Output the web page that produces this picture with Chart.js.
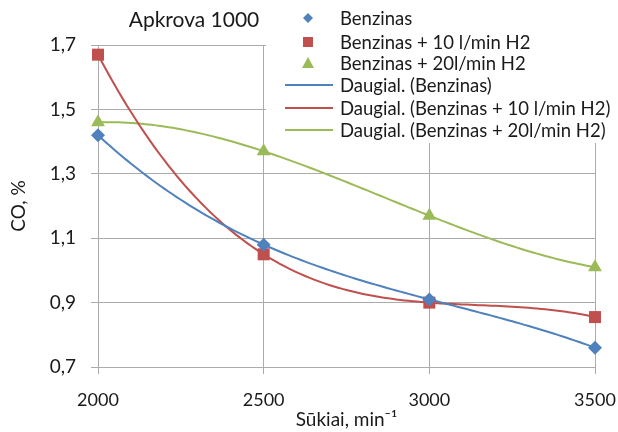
<!DOCTYPE html>
<html>
<head>
<meta charset="utf-8">
<script src="https://cdn.jsdelivr.net/npm/chart.js@4/dist/chart.umd.min.js"></script>
<style>
  html, body { margin: 0; padding: 0; background: #fff; }
  #wrap { width: 618px; height: 432px; }
</style>
</head>
<body>
<div id="wrap"><canvas id="chart" width="618" height="432"></canvas></div>
<script>
// --- Duomenys ---
const rpm = [2000, 2500, 3000, 3500];
const benzinas = [1.42, 1.08, 0.91, 0.76];
const benzinas10 = [1.67, 1.05, 0.90, 0.855];
const benzinas20 = [1.46, 1.37, 1.17, 1.01];
const seriesNames = ['Benzinas', 'Benzinas + 10 l/min H2', 'Benzinas + 20l/min H2'];
const xTicks = [2000, 2500, 3000, 3500];
const yTicks = [0.7, 0.9, 1.1, 1.3, 1.5, 1.7];

const colors = ['#4F81BD', '#C0504D', '#9BBB59'];
const shapes = ['rectRot', 'rect', 'triangle'];
const radii = [7, 8.5, 8];
const FONT = 'Lato';
const TEXT = '#1a1a1a';

// polinominė trendo linija (3 laipsnio), kaip Excel "Daugianaris"
function polyTrend(xs, ys, order) {
  const n = order + 1;
  const sx = xs.map(x => (x - 2000) / 1000);
  const A = [];
  for (let i = 0; i < n; i++) {
    A.push(new Array(n + 1).fill(0));
    for (let j = 0; j < n; j++) {
      A[i][j] = sx.reduce((s, x) => s + Math.pow(x, i + j), 0);
    }
    A[i][n] = sx.reduce((s, x, k) => s + Math.pow(x, i) * ys[k], 0);
  }
  for (let c = 0; c < n; c++) {
    let p = c;
    for (let r = c + 1; r < n; r++) if (Math.abs(A[r][c]) > Math.abs(A[p][c])) p = r;
    [A[c], A[p]] = [A[p], A[c]];
    for (let r = 0; r < n; r++) {
      if (r === c) continue;
      const f = A[r][c] / A[c][c];
      for (let k = c; k <= n; k++) A[r][k] -= f * A[c][k];
    }
  }
  const coef = A.map((row, i) => row[n] / row[i]);
  const pts = [];
  const x0 = xs[0], x1 = xs[xs.length - 1];
  for (let i = 0; i <= 120; i++) {
    const x = x0 + (x1 - x0) * i / 120;
    const t = (x - 2000) / 1000;
    pts.push({ x: x, y: coef.reduce((s, c, k) => s + c * Math.pow(t, k), 0) });
  }
  return pts;
}

const allY = [benzinas, benzinas10, benzinas20];
const datasets = [];
allY.forEach((ys, i) => {
  datasets.push({
    label: seriesNames[i],
    data: rpm.map((x, k) => ({ x: x, y: ys[k] })),
    showLine: false,
    clip: false,
    pointStyle: shapes[i],
    pointRadius: radii[i],
    pointHoverRadius: radii[i],
    pointBackgroundColor: colors[i],
    pointBorderColor: colors[i],
    pointBorderWidth: 0,
    order: 0
  });
});
allY.forEach((ys, i) => {
  datasets.push({
    label: 'Daugial. (' + seriesNames[i] + ')',
    data: polyTrend(rpm, ys, 3),
    showLine: true,
    borderColor: colors[i],
    borderWidth: 2,
    pointRadius: 0,
    pointHoverRadius: 0,
    order: 1
  });
});

// pavadinimas ir legenda piešiami ranka, nes Excel legenda užlenda ant grafiko
const overlay = {
  id: 'overlay',
  beforeDatasetsDraw(chart) {
    const ctx = chart.ctx;
    ctx.save();
    ctx.fillStyle = '#fff';
    ctx.fillRect(266, 0, 352, 143);
    ctx.restore();
  },
  afterDraw(chart) {
    const ctx = chart.ctx;
    ctx.save();
    ctx.fillStyle = TEXT;
    ctx.font = '21px ' + FONT;
    ctx.textAlign = 'center';
    ctx.textBaseline = 'middle';
    ctx.fillText('Apkrova 1000', 194, 20);

    const rows = [18, 42, 63, 85, 108, 130];
    ctx.font = '18.5px ' + FONT;
    ctx.textAlign = 'left';
    chart.data.datasets.forEach((ds, i) => {
      const y = rows[i];
      if (i < 3) {
        ctx.fillStyle = colors[i];
        ctx.beginPath();
        if (i === 0) {
          ctx.moveTo(308, y - 5); ctx.lineTo(313, y); ctx.lineTo(308, y + 5); ctx.lineTo(303, y);
        } else if (i === 1) {
          ctx.rect(303, y - 5, 10, 10);
        } else {
          ctx.moveTo(308, y - 6); ctx.lineTo(314, y + 5); ctx.lineTo(302, y + 5);
        }
        ctx.closePath();
        ctx.fill();
      } else {
        ctx.strokeStyle = colors[i - 3];
        ctx.lineWidth = 2;
        ctx.beginPath();
        ctx.moveTo(285, y); ctx.lineTo(333, y);
        ctx.stroke();
      }
      ctx.fillStyle = TEXT;
      ctx.fillText(ds.label, 340, y + 1);
    });
    ctx.restore();
  }
};

const gridColor = '#ababab';

new Chart(document.getElementById('chart'), {
  type: 'scatter',
  data: { datasets: datasets },
  options: {
    responsive: false,
    animation: false,
    layout: { padding: { top: 45, right: 23, left: 0, bottom: 0 } },
    plugins: {
      legend: { display: false },
      title: { display: false },
      tooltip: { enabled: false }
    },
    scales: {
      x: {
        type: 'linear',
        min: 2000,
        max: 3500,
        afterBuildTicks: s => { s.ticks = xTicks.map(v => ({ value: v })); },
        afterFit: s => { s.height = 65; s.paddingLeft = 0; s.paddingRight = 0; },
        grid: { color: gridColor, tickLength: 7 },
        border: { color: gridColor },
        ticks: {
          color: TEXT,
          font: { family: FONT, size: 18 },
          padding: 15,
          maxRotation: 0,
          callback: v => String(v)
        },
        title: { display: true, text: 'Sūkiai, min⁻¹', color: TEXT, font: { family: FONT, size: 19 }, padding: { top: 0, bottom: 1 } }
      },
      y: {
        type: 'linear',
        min: 0.7,
        max: 1.7,
        afterBuildTicks: s => { s.ticks = yTicks.map(v => ({ value: v })); },
        afterFit: s => { s.width = 98; s.paddingTop = 0; s.paddingBottom = 0; },
        grid: { color: gridColor, tickLength: 7 },
        border: { color: gridColor },
        ticks: {
          color: TEXT,
          font: { family: FONT, size: 19 },
          padding: 15,
          callback: v => v.toFixed(1).replace('.', ',')
        },
        title: { display: true, text: 'CO, %', color: TEXT, font: { family: FONT, size: 19 }, padding: { top: 7, bottom: 0 } }
      }
    }
  },
  plugins: [overlay]
});
</script>
</body>
</html>
